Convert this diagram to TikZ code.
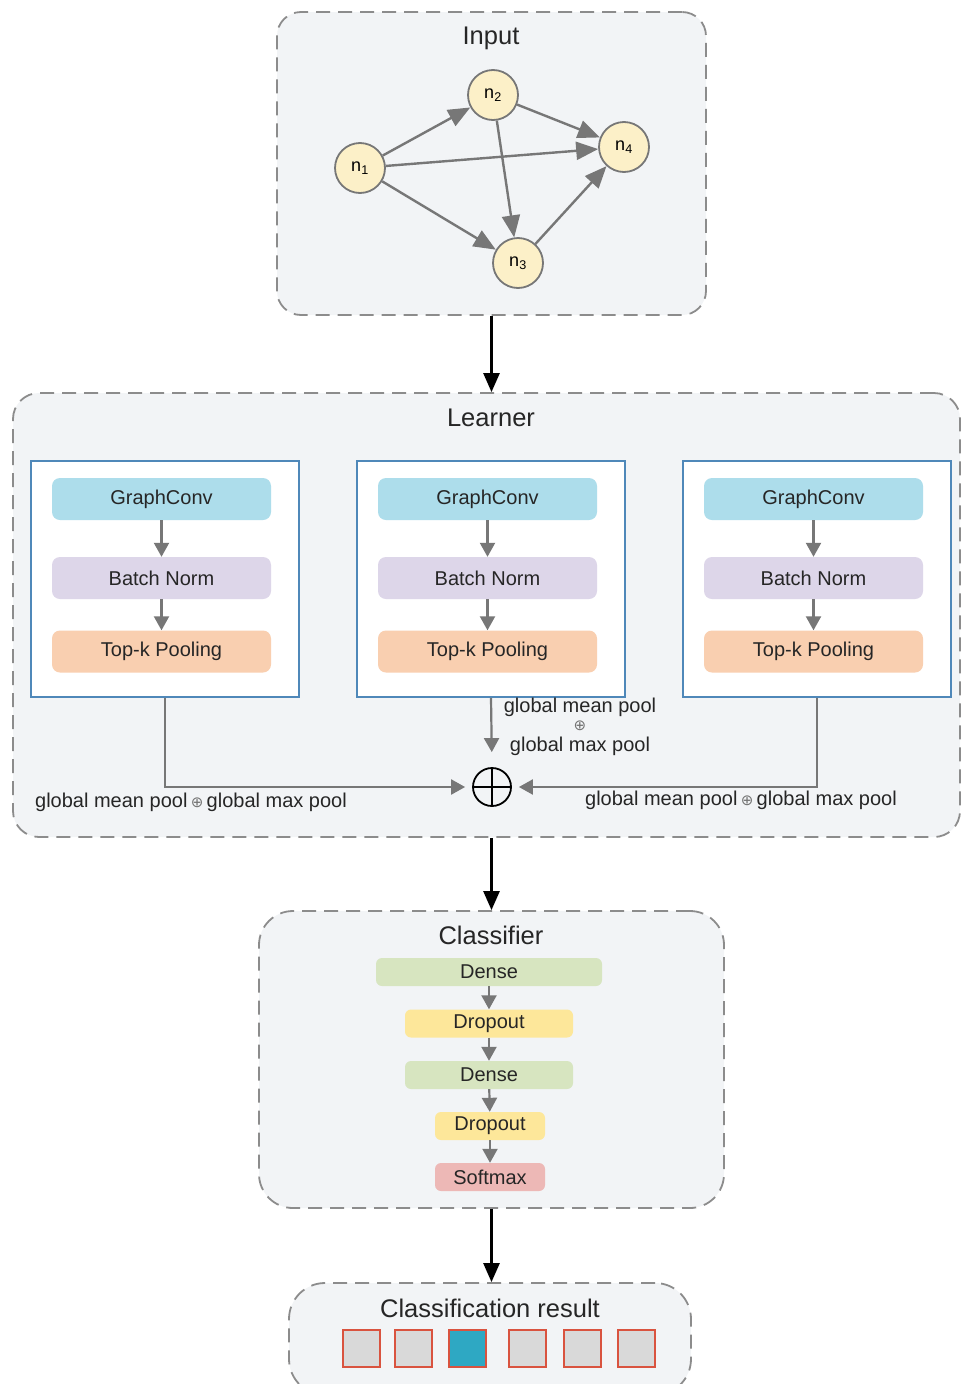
\documentclass[tikz,border=0pt]{standalone}
\usepackage{fontspec}
\setmainfont{Liberation Sans}
\newfontfamily\symbfont{DejaVu Sans}
\usetikzlibrary{arrows.meta}
\usetikzlibrary{positioning}
\definecolor{panelfill}{HTML}{F2F4F6}
\definecolor{panelline}{HTML}{8C8C8C}
\definecolor{nodefill}{HTML}{FCF0C8}
\definecolor{edgegray}{HTML}{777777}
\definecolor{boxblue}{HTML}{4F88B9}
\definecolor{convblue}{HTML}{ADDDEB}
\definecolor{normpurple}{HTML}{DDD6E9}
\definecolor{poolorange}{HTML}{F9CFB0}
\definecolor{densegreen}{HTML}{D7E5C0}
\definecolor{dropyellow}{HTML}{FDE79A}
\definecolor{softred}{HTML}{EDB8B6}
\definecolor{cellgray}{HTML}{D9D9D9}
\definecolor{cellred}{HTML}{D9533F}
\definecolor{cellcyan}{HTML}{2EA8C3}
\newcommand{\titlefont}{\fontsize{25.5}{30}\selectfont}
\newcommand{\blockfont}{\fontsize{20}{24}\selectfont}
\newcommand{\catop}{{\symbfont\fontsize{15}{15}\selectfont\color{black!55}⊕}}
\tikzset{
  panel/.style={draw=panelline, fill=panelfill, line width=1.8pt, dash pattern=on 14pt off 8pt, inner sep=0pt},
  paneltitle/.style={font=\titlefont, text=black!85},
  gnode/.style={circle, draw=edgegray, fill=nodefill, line width=1.8pt, minimum size=50pt, inner sep=0pt, font=\fontsize{18}{20}\selectfont},
  gedge/.style={draw=edgegray, line width=2.4pt, -{Triangle[length=22pt, width=18pt]}},
  unitbox/.style={draw=boxblue, fill=white, line width=1.8pt, minimum width=268pt, minimum height=236pt, inner sep=0pt},
  layer/.style={rounded corners=8pt, minimum width=219pt, minimum height=42pt, inner sep=0pt, font=\blockfont, text=black!85},
  clsblock/.style={rounded corners=6pt, minimum height=28pt, inner sep=0pt, font=\blockfont, text=black!85},
  flow/.style={draw=edgegray, line width=2.2pt, -{Triangle[length=14pt, width=15pt]}},
  mainflow/.style={draw=black, line width=2.6pt, -{Triangle[length=19pt, width=16pt]}},
  poollabel/.style={font=\blockfont, text=black!85, inner sep=0pt},
  cell/.style={draw=cellred, line width=2pt, minimum size=37pt, inner sep=0pt}
}
\begin{document}
\begin{tikzpicture}[x=1pt, y=-1pt]
  \useasboundingbox (0,0) rectangle (964,1384);
  \node[panel, rounded corners=24pt, minimum width=429pt, minimum height=303pt] (inputbox) at (491.5,163.5) {};
  \node[paneltitle] (inputtitle) at (491,38) {Input};
  \node[gnode] (n1) at (360,168) {n\textsubscript{1}};
  \node[gnode] (n2) at (493,95) {n\textsubscript{2}};
  \node[gnode] (n3) at (518,263) {n\textsubscript{3}};
  \node[gnode] (n4) at (624,147) {n\textsubscript{4}};
  \draw[gedge] (n1) -- (n2);
  \draw[gedge] (n1) -- (n4);
  \draw[gedge] (n1) -- (n3);
  \draw[gedge] (n2) -- (n4);
  \draw[gedge] (n2) -- (n3);
  \draw[gedge] (n3) -- (n4);

  \node[panel, rounded corners=26pt, minimum width=947pt, minimum height=444pt] (learnerbox) at (486.5,615) {};
  \node[paneltitle] (learnertitle) at (491,418) {Learner};
  \foreach \cx/\nm in {165/a, 491/b, 817/c} {
    \node[unitbox] (unit\nm) at (\cx,579) {};
    \node[layer, fill=convblue] (conv\nm) at (\cx-3.5,499) {GraphConv};
    \node[layer, fill=normpurple] (norm\nm) at (\cx-3.5,578) {Batch Norm};
    \node[layer, fill=poolorange] (pool\nm) at (\cx-3.5,651.5) {Top-k Pooling};
    \draw[flow] (conv\nm) -- (norm\nm);
    \draw[flow] (norm\nm) -- (pool\nm);
  }
  \node[circle, draw=black, line width=1.8pt, minimum size=38pt, inner sep=0pt,
    path picture={\draw[line width=1.8pt] (path picture bounding box.north) -- (path picture bounding box.south)
      (path picture bounding box.west) -- (path picture bounding box.east);}] (sum) at (492,787) {};
  \draw[flow, shorten >=7pt] (unita.south) |- (sum.west);
  \draw[flow, shorten >=15pt] (unitb.south) -- (sum.north);
  \draw[flow, shorten >=7pt] (unitc.south) |- (sum.east);
  \node[poollabel] (leftpool) at (191,802) {global mean pool\,\catop\,global max pool};
  \node[poollabel] (rightpool) at (741,800) {global mean pool\,\catop\,global max pool};
  \node[poollabel] (midmean) at (580,707) {global mean pool};
  \node[inner sep=0pt] (midplus) at (580,726) {\catop};
  \node[poollabel] (midmax) at (580,746) {global max pool};

  \node[panel, rounded corners=34pt, minimum width=465pt, minimum height=297pt] (classbox) at (491.5,1059.5) {};
  \node[paneltitle] (classtitle) at (491,935) {Classifier};
  \node[clsblock, fill=densegreen, minimum width=226pt] (dense1) at (489,972) {Dense};
  \node[clsblock, fill=dropyellow, minimum width=168pt] (drop1) at (489,1023.5) {Dropout};
  \node[clsblock, fill=densegreen, minimum width=168pt] (dense2) at (489,1075) {Dense};
  \node[clsblock, fill=dropyellow, minimum width=110pt] (drop2) at (490,1126) {Dropout};
  \node[clsblock, fill=softred, minimum width=110pt] (softmax) at (490,1177) {Softmax};
  \draw[flow] (dense1) -- (drop1);
  \draw[flow] (drop1) -- (dense2);
  \draw[flow] (dense2) -- (drop2);
  \draw[flow] (drop2) -- (softmax);

  \node[panel, rounded corners=36pt, minimum width=402pt, minimum height=112pt] (resultbox) at (490,1339) {};
  \node[paneltitle] (resulttitle) at (490,1308) {Classification result};
  \foreach \cx/\col [count=\i] in {361/cellgray, 413/cellgray, 467/cellcyan, 527/cellgray, 582/cellgray, 636.5/cellgray}
    \node[cell, fill=\col] (cell\i) at (\cx,1348) {};

  \draw[mainflow] (inputbox.south) -- (learnerbox.north -| inputbox.south);
  \draw[mainflow] (learnerbox.south -| inputbox.south) -- (classbox.north -| inputbox.south);
  \draw[mainflow] (classbox.south -| inputbox.south) -- (resultbox.north -| inputbox.south);
\end{tikzpicture}
\end{document}
